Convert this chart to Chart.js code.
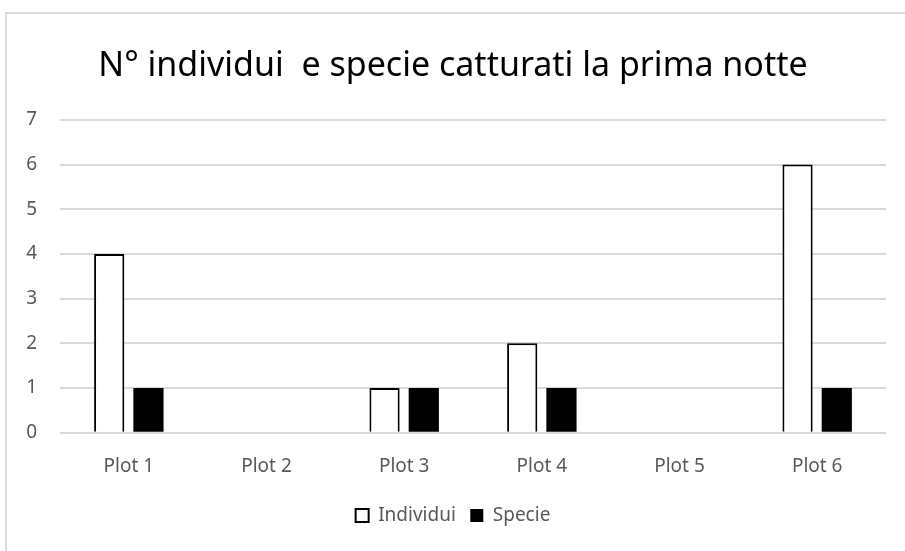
<!DOCTYPE html>
<html>
<head>
<meta charset="utf-8">
<script src="https://cdn.jsdelivr.net/npm/chart.js@4"></script>
<style>
  body { margin: 0; background: #fff; }
  #box { position: absolute; left: 5px; top: 12px; width: 920px; height: 560px; border: 2px solid #d9d9d9; }
  #wrap { position: absolute; left: 0; top: 0; width: 905px; height: 551px; }
</style>
</head>
<body>
<div id="box"></div>
<div id="wrap"><canvas id="myChart"></canvas></div>
<script>
var plots = ["Plot 1", "Plot 2", "Plot 3", "Plot 4", "Plot 5", "Plot 6"];
var individui = [4, 0, 1, 2, 0, 6];
var specie = [1, 0, 1, 1, 0, 1];
var titolo = "N° individui  e specie catturati la prima notte";

var grigio = "#595959";
var font = "'Noto Sans', sans-serif";

var ctx = document.getElementById("myChart");
var data = {
  labels: plots,
  datasets: [
    {
      label: "Individui",
      data: individui,
      backgroundColor: "#ffffff",
      borderColor: "#000000",
      borderWidth: 2,
      categoryPercentage: 0.57,
      barPercentage: 0.77,
    },
    {
      label: "Specie",
      data: specie,
      backgroundColor: "#000000",
      borderColor: "#000000",
      borderWidth: 0,
      categoryPercentage: 0.57,
      barPercentage: 0.77,
    },
  ],
};

var config = {
  type: "bar",
  data,
  options: {
    responsive: true,
    maintainAspectRatio: false,
    animation: false,
    layout: { padding: { left: 20, right: 19, top: 30, bottom: 16 } },
    plugins: {
      title: {
        display: true,
        text: titolo,
        color: "#000000",
        font: { family: font, size: 34, weight: "normal" },
        padding: { top: 16, bottom: 33 },
      },
      legend: {
        position: "bottom",
        labels: {
          color: grigio,
          font: { family: font, size: 19 },
          boxWidth: 13,
          boxHeight: 13,
          padding: 14.5,
        },
      },
      tooltip: { enabled: false },
    },
    scales: {
      x: {
        grid: { display: false },
        border: { display: false },
        ticks: { color: grigio, font: { family: font, size: 19 }, padding: 14 },
      },
      y: {
        min: 0,
        max: 7,
        ticks: { stepSize: 1, color: grigio, font: { family: font, size: 19 }, padding: 23 },
        grid: { color: "#d9d9d9", lineWidth: 2, drawTicks: false },
        border: { display: false },
        afterFit: function (scale) { scale.width = 40; },
      },
    },
  },
};

var myChart = new Chart(ctx, config);
</script>
</body>
</html>
